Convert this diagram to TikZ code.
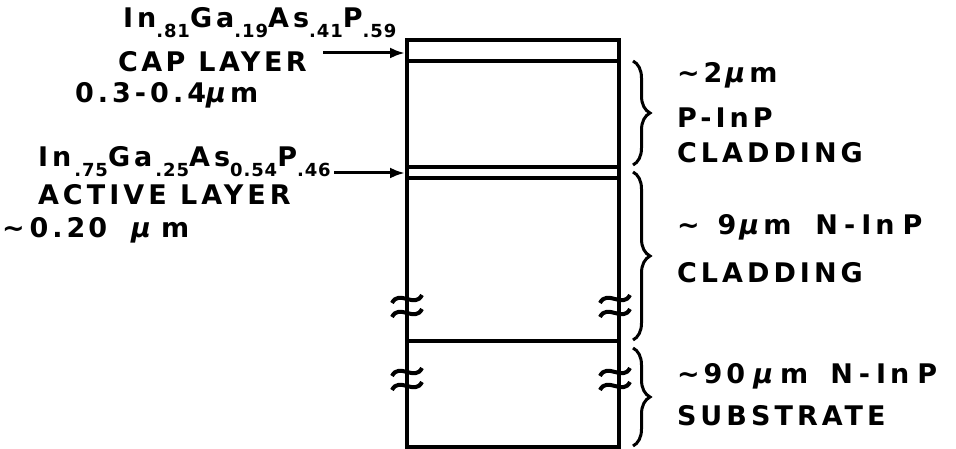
\documentclass[tikz,border=0pt]{standalone}
\usepackage{fontspec}
\setmainfont{DejaVu Sans}[LetterSpace=15,UprightFont={* Bold},ItalicFont={* Bold Oblique}]
\usetikzlibrary{arrows.meta,decorations.pathreplacing}
\newcommand{\sbx}[1]{\raisebox{-0.34em}{\fontsize{18}{18}\selectfont\addfontfeatures{LetterSpace=5}#1}}
\newcommand{\mymu}{\textit{μ}}
\newcommand{\hs}{\hspace{3pt}}
\newcommand{\hw}{\hspace{6pt}}
\begin{document}
\begin{tikzpicture}[x=1pt,y=-1pt,
  lbl/.style={anchor=base west,inner sep=0pt,outer sep=0pt,font=\fontsize{27}{30}\selectfont},
  wall/.style={line width=3.2pt},
  brc/.style={line width=3pt,decorate,decoration={brace,amplitude=17pt}},
  arr/.style={line width=3pt,-{Latex[length=15pt,width=11pt]}},
  brk/.pic={\draw[line width=4pt] (-15,-3) .. controls (-8,-17) and (8,3) .. (15,-11);
            \draw[line width=4pt] (-15,11) .. controls (-8,-3) and (8,17) .. (15,3);}]
\useasboundingbox (0,0) rectangle (956,449);
% structure
\coordinate (tl) at (407,40);
\coordinate (tr) at (619,40);
\coordinate (bl) at (407,447);
\coordinate (br) at (619,447);
\draw[wall] (tl) rectangle (br);
\draw[wall] (407,61) -- (619,61);
\draw[wall] (407,167) -- (619,167);
\draw[wall] (407,178) -- (619,178);
\draw[wall] (407,341) -- (619,341);
% breaks
\pic at (407,306) {brk};
\pic at (407,379) {brk};
\pic at (615,306) {brk};
\pic at (615,379) {brk};
% left labels
\node[lbl] (capf) at (123,28) {In\sbx{.81}Ga\sbx{.19}As\sbx{.41}P\sbx{.59}};
\node[lbl] (capl) at (118,72) {\addfontfeatures{LetterSpace=13}CAP LAYER};
\node[lbl] (capt) at (75,103) {0.3-0.4\mymu m};
\node[lbl] (actf) at (38,167) {In\sbx{\,.75}Ga\sbx{\,.25}As\sbx{0.54}P\sbx{.46}};
\node[lbl] (actl) at (38,205) {ACTIVE LAYER};
\node[lbl] (actt) at (2,237) {∼\hspace{5pt}0\hspace{4pt}.\hspace{4pt}2\hspace{3pt}0\hspace{24pt}\mymu\hw m};
% arrows
\coordinate (capa) at (323,53);
\coordinate (capb) at (405,53);
\coordinate (acta) at (334,173);
\coordinate (actb) at (405,173);
\draw[arr] (capa) -- (capb);
\draw[arr] (acta) -- (actb);
% braces
\coordinate (b1a) at (633,61);
\coordinate (b1b) at (633,165);
\coordinate (b2a) at (633,172);
\coordinate (b2b) at (633,340);
\coordinate (b3a) at (633,348);
\coordinate (b3b) at (633,446);
\draw[brc] (b1a) -- (b1b);
\draw[brc] (b2a) -- (b2b);
\draw[brc] (b3a) -- (b3b);
% right labels
\node[lbl] (r1) at (677,83) {∼2\hs\mymu m};
\node[lbl] (r2) at (677,128) {P-InP};
\node[lbl] (r3) at (677,163) {CLADDING};
\node[lbl] (r4) at (677,235) {∼\hspace{18pt}9\hs\mymu m\hspace{24pt}N\hw-\hw In\hspace{8pt}P};
\node[lbl] (r5) at (677,283) {CLADDING};
\node[lbl] (r6) at (677,383) {∼\hspace{4pt}90\hspace{8pt}\mymu\hs m\hspace{22pt}N\hw-\hw In\hspace{8pt}P};
\node[lbl] (r7) at (677,425) {SUBSTRATE};
\end{tikzpicture}
\end{document}
